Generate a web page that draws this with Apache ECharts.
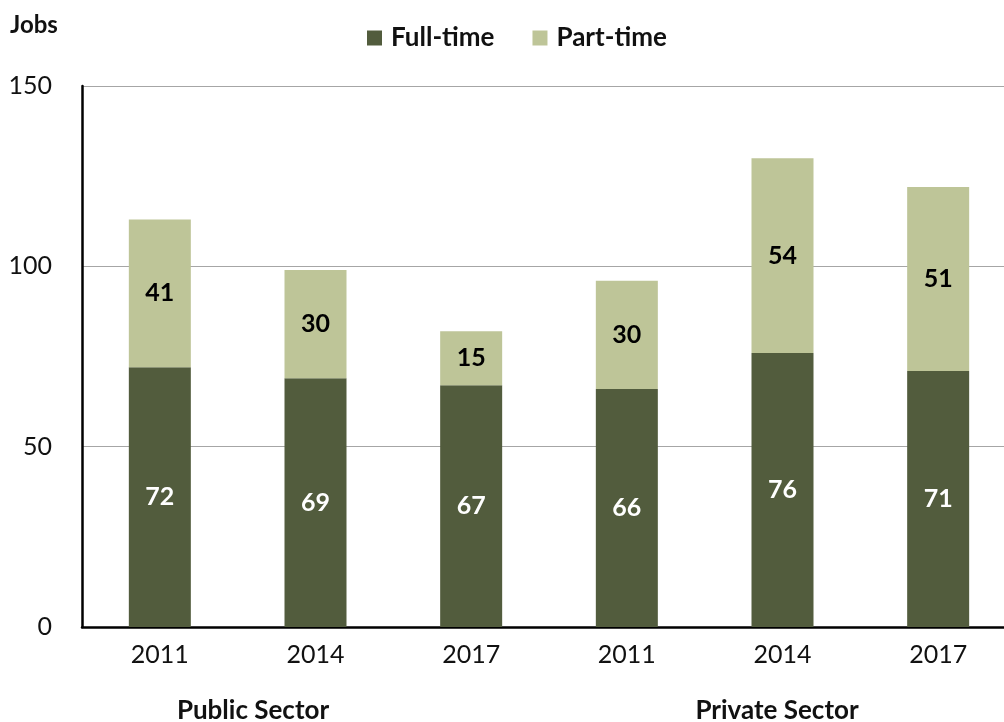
<!DOCTYPE html>
<html>
<head>
<meta charset="utf-8">
<script src="https://cdn.jsdelivr.net/npm/echarts@6/dist/echarts.min.js"></script>
<style>
  html, body { margin: 0; padding: 0; background: #ffffff; overflow: hidden; }
  /* the plot runs a little past the right edge of the window */
  #chart { width: 1016px; height: 722px; }
</style>
</head>
<body>
<div id="chart"></div>
<script>
// Jobs by sector and survey year, split into full-time and part-time
const years = ['2011', '2014', '2017', '2011', '2014', '2017'];
const fullTime = [72, 69, 67, 66, 76, 71];
const partTime = [41, 30, 15, 30, 54, 51];
const yTicks = { min: 0, max: 150, interval: 50 };
const sectors = ['Public Sector', 'Private Sector'];

const FONT = 'Lato, "Open Sans", sans-serif';
const DARK = '#525c3d';
const LIGHT = '#bec598';

const chart = echarts.init(document.getElementById('chart'), null, { renderer: 'canvas' });

chart.setOption({
  animation: false,
  backgroundColor: '#ffffff',
  textStyle: { fontFamily: FONT },
  legend: {
    top: 20,
    left: 362,
    itemWidth: 15,
    itemHeight: 15,
    itemGap: 38,
    icon: 'rect',
    textStyle: { fontFamily: FONT, fontSize: 26, fontWeight: 'bold', color: '#111', padding: [0, 0, 0, 4] },
    data: ['Full-time', 'Part-time']
  },
  grid: { left: 82, top: 86, right: 0, bottom: 95, containLabel: false },
  xAxis: {
    type: 'category',
    data: years,
    axisLine: { lineStyle: { color: '#000', width: 2.5 } },
    axisTick: { show: false },
    axisLabel: { fontFamily: FONT, fontSize: 25, color: '#111', margin: 15 }
  },
  yAxis: {
    type: 'value',
    min: yTicks.min,
    max: yTicks.max,
    interval: yTicks.interval,
    axisLine: { show: true, lineStyle: { color: '#000', width: 2.5 } },
    axisTick: { show: false },
    splitLine: { lineStyle: { color: '#a6a6a6', width: 1.2 } },
    axisLabel: { fontFamily: FONT, fontSize: 25, color: '#111', margin: 30 }
  },
  series: [
    {
      name: 'Full-time',
      type: 'bar',
      stack: 'jobs',
      barWidth: 62,
      data: fullTime,
      itemStyle: { color: DARK },
      label: {
        show: true, position: 'inside',
        fontFamily: FONT, fontSize: 25, fontWeight: 'bold', color: '#ffffff'
      }
    },
    {
      name: 'Part-time',
      type: 'bar',
      stack: 'jobs',
      barWidth: 62,
      data: partTime,
      itemStyle: { color: LIGHT },
      label: {
        show: true, position: 'inside',
        fontFamily: FONT, fontSize: 25, fontWeight: 'bold', color: '#000000'
      }
    }
  ],
  graphic: [
    {
      type: 'text', x: 10, y: 25,
      style: { text: 'Jobs', fontFamily: FONT, fontSize: 24, fontWeight: 'bold', fill: '#111',
               verticalAlign: 'middle' }
    },
    {
      type: 'text', x: 253, y: 711,
      style: { text: sectors[0], fontFamily: FONT, fontSize: 26, fontWeight: 'bold', fill: '#111',
               align: 'center', verticalAlign: 'middle' }
    },
    {
      type: 'text', x: 777, y: 711,
      style: { text: sectors[1], fontFamily: FONT, fontSize: 26, fontWeight: 'bold', fill: '#111',
               align: 'center', verticalAlign: 'middle' }
    }
  ]
});
</script>
</body>
</html>
